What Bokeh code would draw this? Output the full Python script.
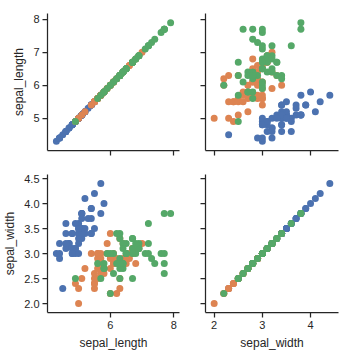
from bokeh.plotting import figure
from bokeh.layouts import column, row
from bokeh.models import Range1d, FixedTicker, ColumnDataSource
from bokeh.embed import file_html
from bokeh.resources import INLINE

species_names = ["setosa", "versicolor", "virginica"]
colors = ["#4C72B0", "#DD8452", "#55A868"]

setosa_sepal_length = [5.1, 4.9, 4.7, 4.6, 5.0, 5.4, 4.6, 5.0, 4.4, 4.9, 5.4, 4.8, 4.8, 4.3, 5.8, 5.7, 5.4, 5.1, 5.7, 5.1,
                       5.4, 5.1, 4.6, 5.1, 4.8, 5.0, 5.0, 5.2, 5.2, 4.7, 4.8, 5.4, 5.2, 5.5, 4.9, 5.0, 5.5, 4.9, 4.4, 5.1,
                       5.0, 4.5, 4.4, 5.0, 5.1, 4.8, 5.1, 4.6, 5.3, 5.0]
setosa_sepal_width = [3.5, 3.0, 3.2, 3.1, 3.6, 3.9, 3.4, 3.4, 2.9, 3.1, 3.7, 3.4, 3.0, 3.0, 4.0, 4.4, 3.9, 3.5, 3.8, 3.8,
                      3.4, 3.7, 3.6, 3.3, 3.4, 3.0, 3.4, 3.5, 3.4, 3.2, 3.1, 3.4, 4.1, 4.2, 3.1, 3.2, 3.5, 3.6, 3.0, 3.4,
                      3.5, 2.3, 3.2, 3.5, 3.8, 3.0, 3.8, 3.2, 3.7, 3.3]
versicolor_sepal_length = [7.0, 6.4, 6.9, 5.5, 6.5, 5.7, 6.3, 4.9, 6.6, 5.2, 5.0, 5.9, 6.0, 6.1, 5.6, 6.7, 5.6, 5.8, 6.2, 5.6,
                           5.9, 6.1, 6.3, 6.1, 6.4, 6.6, 6.8, 6.7, 6.0, 5.7, 5.5, 5.5, 5.8, 6.0, 5.4, 6.0, 6.7, 6.3, 5.6, 5.5,
                           5.5, 6.1, 5.8, 5.0, 5.6, 5.7, 5.7, 6.2, 5.1, 5.7]
versicolor_sepal_width = [3.2, 3.2, 3.1, 2.3, 2.8, 2.8, 3.3, 2.4, 2.9, 2.7, 2.0, 3.0, 2.2, 2.9, 2.9, 3.1, 3.0, 2.7, 2.2, 2.5,
                          3.2, 2.8, 2.5, 2.8, 2.9, 3.0, 2.8, 3.0, 2.9, 2.6, 2.4, 2.4, 2.7, 2.7, 3.0, 3.4, 3.1, 2.3, 3.0, 2.5,
                          2.6, 3.0, 2.6, 2.3, 2.7, 3.0, 2.9, 2.9, 2.5, 2.8]
virginica_sepal_length = [6.3, 5.8, 7.1, 6.3, 6.5, 7.6, 4.9, 7.3, 6.7, 7.2, 6.5, 6.4, 6.8, 5.7, 5.8, 6.4, 6.5, 7.7, 7.7, 6.0,
                          6.9, 5.6, 7.7, 6.3, 6.7, 7.2, 6.2, 6.1, 6.4, 7.2, 7.4, 7.9, 6.4, 6.3, 6.1, 7.7, 6.3, 6.4, 6.0, 6.9,
                          6.7, 6.9, 5.8, 6.8, 6.7, 6.7, 6.3, 6.5, 6.2, 5.9]
virginica_sepal_width = [3.3, 2.7, 3.0, 2.9, 3.0, 3.0, 2.5, 2.9, 2.5, 3.6, 3.2, 2.7, 3.0, 2.5, 2.8, 3.2, 3.0, 3.8, 2.6, 2.2,
                         3.2, 2.8, 2.8, 2.7, 3.3, 3.2, 2.8, 3.0, 2.8, 3.0, 2.8, 3.8, 2.8, 2.8, 2.6, 3.0, 3.4, 3.1, 3.0, 3.1,
                         3.1, 3.1, 2.7, 3.2, 3.3, 3.0, 2.5, 3.0, 3.4, 3.0]

sepal_length_ticks = [4, 5, 6, 7, 8]
sepal_length_xticks = [6, 8]
sepal_width_ticks = [2.0, 2.5, 3.0, 3.5, 4.0, 4.5]
sepal_width_xticks = [2, 3, 4]

data = {
    "sepal_length": [setosa_sepal_length, versicolor_sepal_length, virginica_sepal_length],
    "sepal_width": [setosa_sepal_width, versicolor_sepal_width, virginica_sepal_width],
}
ranges = {"sepal_length": (4.02, 8.18), "sepal_width": (1.82, 4.58)}
yticks = {"sepal_length": sepal_length_ticks, "sepal_width": sepal_width_ticks}
xticks = {"sepal_length": sepal_length_xticks, "sepal_width": sepal_width_xticks}

FONT = "Liberation Sans"
TXT = "#262626"


def tick_fmt(v):
    return str(v)


def panel(xvar, yvar, bl, fw, br, bt, fh, bb, show_xlab, show_ylab):
    p = figure(width=bl + fw + br, height=bt + fh + bb, output_backend="svg", toolbar_location=None,
               min_border_left=bl, min_border_right=br, min_border_top=bt, min_border_bottom=bb,
               x_range=Range1d(*ranges[xvar]), y_range=Range1d(*ranges[yvar]))
    p.outline_line_color = None
    p.grid.visible = False
    p.background_fill_color = "white"
    p.border_fill_color = "white"
    for k in range(3):
        src = ColumnDataSource(dict(x=data[xvar][k], y=data[yvar][k]))
        p.scatter("x", "y", source=src, size=7, fill_color=colors[k], line_color=None)
    for ax, ticks, show, lab in ((p.xaxis[0], xticks[xvar], show_xlab, xvar),
                                 (p.yaxis[0], yticks[yvar], show_ylab, yvar)):
        ax.ticker = FixedTicker(ticks=ticks)
        ax.axis_line_color = TXT
        ax.axis_line_width = 1.25
        ax.major_tick_line_color = TXT
        ax.major_tick_line_width = 1.25
        ax.major_tick_out = 5
        ax.major_tick_in = 0
        ax.minor_tick_line_color = None
        ax.major_label_text_font = FONT
        ax.major_label_text_font_size = "11px"
        ax.major_label_text_color = TXT
        ax.major_label_standoff = 3
        if show:
            ax.axis_label = lab
            ax.axis_label_text_font = FONT
            ax.axis_label_text_font_size = "12px"
            ax.axis_label_text_font_style = "normal"
            ax.axis_label_text_color = TXT
            ax.axis_label_standoff = 4
            if lab == "sepal_width" and ax is p.yaxis[0]:
                ax.major_label_overrides = {t: f"{t:.1f}" for t in ticks}
        else:
            ax.major_label_overrides = {t: "" for t in ticks}
    return p


p1 = panel("sepal_length", "sepal_length", 47, 132, 13, 13, 137, 12, False, True)
p2 = panel("sepal_width", "sepal_length", 13, 133, 13, 13, 137, 12, False, False)
p3 = panel("sepal_length", "sepal_width", 47, 132, 13, 12, 138, 40, True, True)
p4 = panel("sepal_width", "sepal_width", 13, 133, 13, 12, 138, 40, True, False)

p = column(row(p1, p2), row(p3, p4))
open("out.html", "w").write(file_html(p, INLINE))
